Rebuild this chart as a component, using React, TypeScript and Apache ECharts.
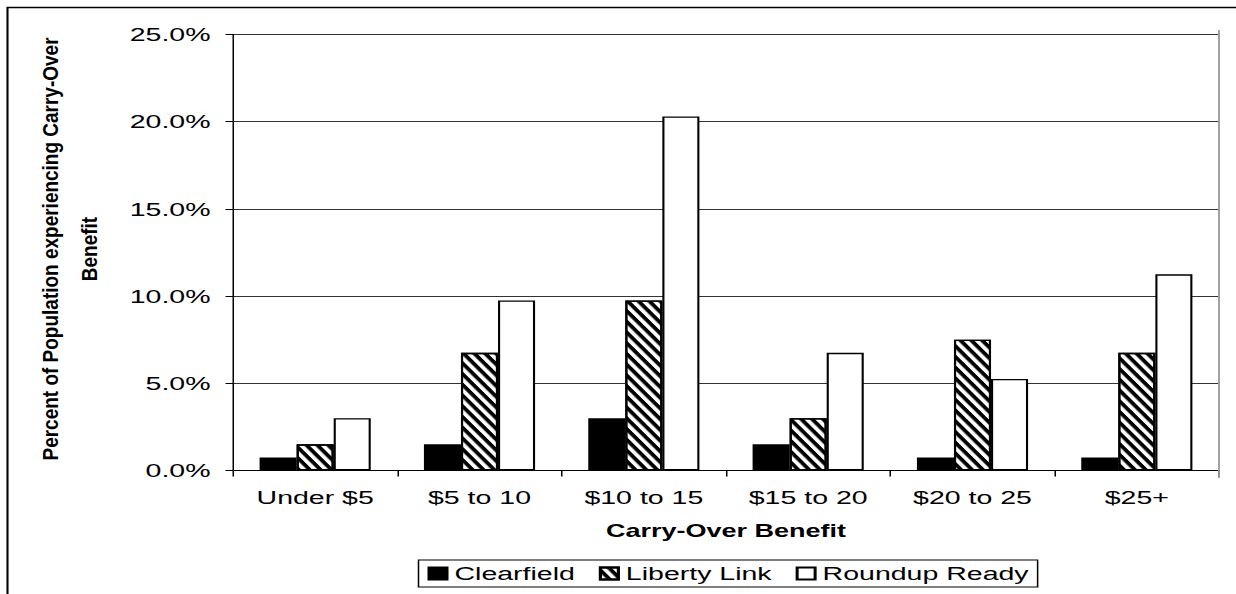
import React, { useEffect, useRef } from "react";
import * as echarts from "echarts";

const categories = ["Under $5", "$5 to 10", "$10 to 15", "$15 to 20", "$20 to 25", "$25+"];
const clearfield = [0.75, 1.5, 3.0, 1.5, 0.75, 0.75];
const libertyLink = [1.5, 6.75, 9.75, 3.0, 7.5, 6.75];
const roundupReady = [3.0, 9.75, 20.3, 6.75, 5.25, 11.25];
const seriesNames = ["Clearfield", "Liberty Link", "Roundup Ready"];
const yTicks = [0, 5, 10, 15, 20, 25];

const STRETCH = 1.5;
const BASE_W = 1236 / STRETCH;
const FONT = "'Liberation Sans', Arial, sans-serif";

export default function App() {
  const ref = useRef<HTMLDivElement>(null);
  useEffect(() => {
    if (!ref.current) return;
    const chart = echarts.init(ref.current, null, { renderer: "svg", width: BASE_W, height: 594 });
    const plotLeft = 233 / STRETCH;
    const plotRight = 1219 / STRETCH;
    const border = { borderColor: "#000", borderWidth: 1.4 };
    chart.setOption({
      animation: false,
      backgroundColor: "#fff",
      textStyle: { fontFamily: FONT, color: "#000" },
      grid: { left: plotLeft, right: BASE_W - plotRight, top: 34.5, bottom: 594 - 470.5, containLabel: false },
      legend: {
        data: seriesNames,
        left: 279,
        top: 560,
        orient: "horizontal",
        padding: [4, 6, 4, 6],
        itemGap: 16,
        itemWidth: 12,
        itemHeight: 12,
        borderColor: "#000",
        borderWidth: 1,
        icon: "rect",
        textStyle: { fontSize: 19, color: "#000", fontFamily: FONT },
      },
      xAxis: {
        type: "category",
        data: categories,
        boundaryGap: true,
        axisLine: { lineStyle: { color: "#000", width: 1.2 } },
        axisTick: { show: true, length: 6, inside: false, lineStyle: { color: "#000", width: 1 } },
        axisLabel: { interval: 0, margin: 17, fontSize: 19, color: "#000", fontFamily: FONT },
        name: "Carry-Over Benefit",
        nameLocation: "middle",
        nameGap: 51,
        nameTextStyle: { fontSize: 18, fontWeight: "bold", color: "#000", fontFamily: FONT },
      },
      yAxis: {
        type: "value",
        min: yTicks[0],
        max: yTicks[yTicks.length - 1],
        interval: yTicks[1] - yTicks[0],
        axisLine: { show: true, lineStyle: { color: "#000", width: 1 } },
        axisTick: { show: true, length: 5, inside: false, lineStyle: { color: "#000" } },
        axisLabel: {
          margin: 15,
          fontSize: 19,
          color: "#000",
          fontFamily: FONT,
          formatter: (v: number) => v.toFixed(1) + "%",
        },
        splitLine: { show: true, lineStyle: { color: "#333", width: 1 } },
      },
      series: [
        {
          name: seriesNames[0],
          type: "bar",
          data: clearfield,
          barWidth: 24.7,
          barGap: "0%",
          itemStyle: { color: "#000", ...border },
        },
        {
          name: seriesNames[1],
          type: "bar",
          data: libertyLink,
          barWidth: 24.7,
          barGap: "0%",
          itemStyle: {
            color: "#fff",
            ...border,
            decal: {
              symbol: "rect",
              symbolSize: 1,
              dashArrayX: [1, 0],
              dashArrayY: [2.5, 2.5],
              rotation: (56 * Math.PI) / 180,
              color: "#000",
              backgroundColor: "#fff",
            },
          },
        },
        {
          name: seriesNames[2],
          type: "bar",
          data: roundupReady,
          barWidth: 24.7,
          barGap: "0%",
          itemStyle: { color: "#fff", ...border },
        },
      ],
      graphic: [
        {
          type: "rect",
          shape: { x: 5, y: 7.5, width: BASE_W + 20, height: 620 },
          style: { fill: "none", stroke: "#000", lineWidth: 1.4 },
          silent: true,
          z: 100,
        },
        {
          type: "line",
          shape: { x1: plotRight, y1: 30, x2: plotRight, y2: 478 },
          style: { stroke: "#999", lineWidth: 1.2 },
          silent: true,
          z: 1,
        },
        {
          type: "text",
          x: 33.5,
          y: 249,
          rotation: Math.PI / 2,
          scaleY: 0.8,
          style: {
            text: "Percent of Population experiencing Carry-Over",
            fontSize: 19,
            fontWeight: "bold",
            fontFamily: FONT,
            fill: "#000",
            align: "center",
            verticalAlign: "middle",
          },
        },
        {
          type: "text",
          x: 59.5,
          y: 249,
          rotation: Math.PI / 2,
          scaleY: 0.8,
          style: {
            text: "Benefit",
            fontSize: 19,
            fontWeight: "bold",
            fontFamily: FONT,
            fill: "#000",
            align: "center",
            verticalAlign: "middle",
          },
        },
      ],
    });
    return () => chart.dispose();
  }, []);
  return (
    <div
      ref={ref}
      style={{
        position: "absolute",
        left: 0,
        top: 0,
        width: BASE_W,
        height: 594,
        transform: `scaleX(${STRETCH})`,
        transformOrigin: "0 0",
        background: "#fff",
      }}
    />
  );
}
